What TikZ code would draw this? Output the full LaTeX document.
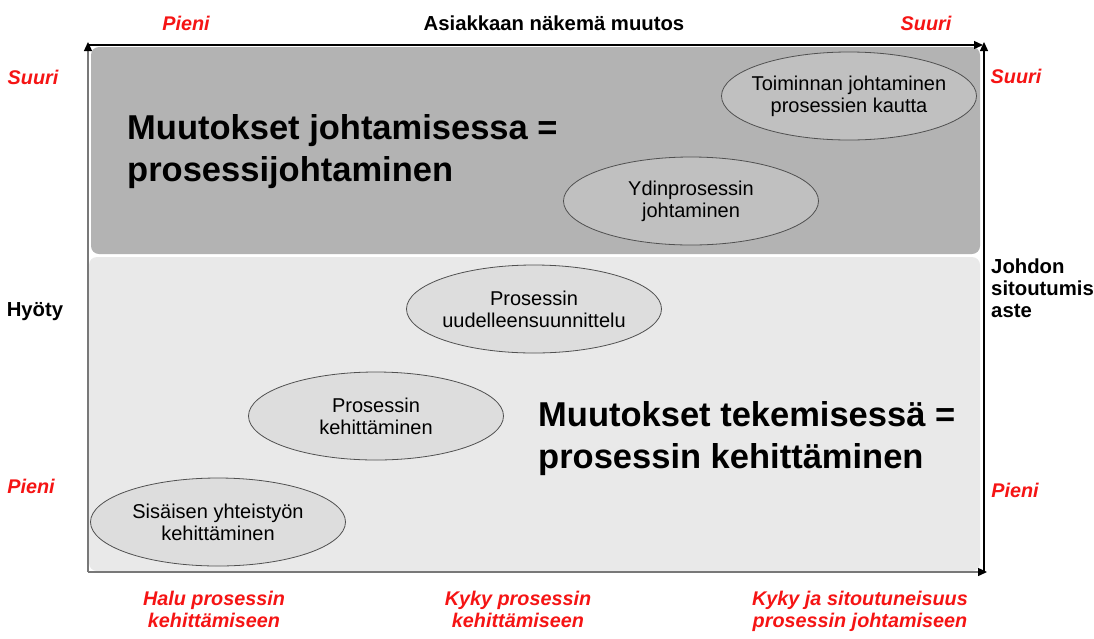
\documentclass[tikz,border=0pt]{standalone}
\usepackage{fontspec}
\setmainfont{Liberation Sans}
\usetikzlibrary{arrows.meta,shapes.geometric}
\definecolor{lbred}{RGB}{245,20,20}
\definecolor{darkpanel}{RGB}{179,179,179}
\definecolor{lightpanel}{RGB}{233,233,233}
\definecolor{elldark}{RGB}{192,192,192}
\definecolor{elllight}{RGB}{221,221,221}
\definecolor{ellline}{RGB}{80,80,80}
\definecolor{axisgray}{RGB}{120,120,120}
\tikzset{
  lbl/.style={font=\fontsize{19.8}{22}\selectfont\bfseries\itshape, text=lbred, inner sep=0pt, anchor=base, align=center},
  axlbl/.style={font=\fontsize{20.3}{22}\selectfont\bfseries, text=black, inner sep=0pt, anchor=base},
  bigtxt/.style={font=\fontsize{34.5}{42}\selectfont\bfseries, inner sep=0pt, anchor=base west, align=left},
  ell/.style={ellipse, draw=ellline, line width=0.8pt, minimum width=255pt, minimum height=88pt, inner sep=-12pt, align=center, font=\fontsize{20}{22}\selectfont},
  axarrow/.style={line width=1.3pt, -{Triangle[length=9pt,width=8pt,color=black]}},
}
\begin{document}
\begin{tikzpicture}[x=1pt,y=-1pt]
\useasboundingbox (0,0) rectangle (1094,638);
% panels
\fill[lightpanel, rounded corners=8pt] (89,257) rectangle (980,571);
\fill[darkpanel, rounded corners=8pt] (91,47) rectangle (980,254);
% axes
\coordinate (bl) at (88,572);
\coordinate (tl) at (88,42);
\coordinate (tlh) at (88,45);
\coordinate (trh) at (983,45);
\coordinate (br) at (984,572);
\coordinate (tr) at (984,42);
\coordinate (brh) at (987,572);
\draw[axarrow, draw=axisgray] (bl) -- (tl);
\draw[axarrow, draw=axisgray] (bl) -- (brh);
\draw[axarrow] (tlh) -- (trh);
\draw[axarrow] (br) -- (tr);
% ellipses
\node[ell, fill=elldark] (e5) at (849,96) {Toiminnan johtaminen\\prosessien kautta};
\node[ell, fill=elldark] (e4) at (691,201) {Ydinprosessin\\johtaminen};
\node[ell, fill=elllight] (e3) at (534,309) {Prosessin\\uudelleensuunnittelu};
\node[ell, fill=elllight] (e2) at (376,416) {Prosessin\\kehittäminen};
\node[ell, fill=elllight] (e1) at (218,522) {Sisäisen yhteistyön\\kehittäminen};
% big texts (base = last line)
\node[bigtxt] (bt1) at (127,181) {Muutokset johtamisessa =\\prosessijohtaminen};
\node[bigtxt] (bt2) at (538,468) {Muutokset tekemisessä =\\prosessin kehittäminen};
% top labels
\node[lbl] (tp) at (186,30) {Pieni};
\node[axlbl] (tx) at (554,30) {Asiakkaan näkemä muutos};
\node[lbl] (ts) at (926,30) {Suuri};
% left labels
\node[lbl] (ls) at (33,84) {Suuri};
\node[axlbl] (ly) at (35,316) {Hyöty};
\node[lbl] (lp) at (31,493) {Pieni};
% right labels
\node[lbl] (rs) at (1016,83) {Suuri};
\node[axlbl, anchor=base west, align=left] (rj) at (991,317) {Johdon\\sitoutumis-\\aste};
\node[lbl] (rp) at (1015,497) {Pieni};
% bottom labels
\node[lbl] (b1) at (214,627) {Halu prosessin\\kehittämiseen};
\node[lbl] (b2) at (518,627) {Kyky prosessin\\kehittämiseen};
\node[lbl] (b3) at (860,627) {Kyky ja sitoutuneisuus\\prosessin johtamiseen};
\end{tikzpicture}
\end{document}
